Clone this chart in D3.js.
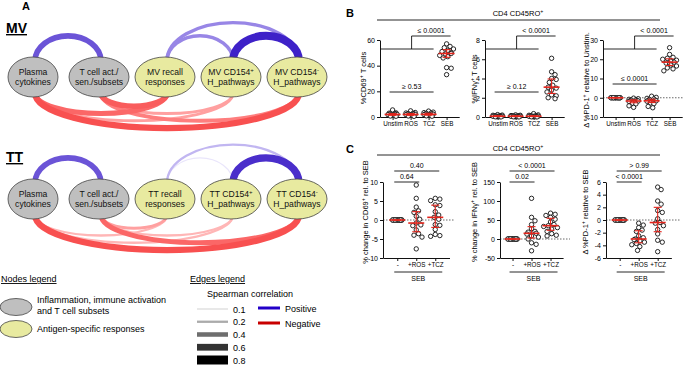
<!DOCTYPE html>
<html>
<head>
<meta charset="utf-8">
<script src="https://cdnjs.cloudflare.com/ajax/libs/d3/7.8.5/d3.min.js"></script>
<style>
body { margin: 0; background: #fff; }
svg { display: block; font-family: "Liberation Sans", Arial, sans-serif; }
</style>
</head>
<body>
<svg id="fig" width="683" height="366"></svg>
<script>
// ---------- Panel A: network ----------
const nodeKeys = ["plasma", "tcell", "recall", "cd154p", "cd154n"];
const nodeKinds = ["inflam", "inflam", "antigen", "antigen", "antigen"];
const mvLabels = [["Plasma", "cytokines"], ["T cell act./", "sen./subsets"], ["MV recall", "responses"], ["MV CD154^+", "H_pathways"], ["MV CD154^-", "H_pathways"]];
const ttLabels = [["Plasma", "cytokines"], ["T cell act./", "sen./subsets"], ["TT recall", "responses"], ["TT CD154^+", "H_pathways"], ["TT CD154^-", "H_pathways"]];
// [source, target, signed spearman r]
const mvEdges = [
	["plasma", "tcell", 0.5], ["recall", "cd154p", 0.3], ["recall", "cd154n", 0.3], ["cd154p", "cd154n", 0.7],
	["plasma", "recall", -0.45], ["plasma", "cd154p", -0.25], ["plasma", "cd154n", -0.55],
	["tcell", "recall", -0.5], ["tcell", "cd154p", -0.25], ["tcell", "cd154n", -0.35],
];
const ttEdges = [
	["plasma", "tcell", 0.5], ["recall", "cd154p", 0.1], ["recall", "cd154n", 0.2], ["cd154p", "cd154n", 0.65],
	["plasma", "recall", -0.2], ["plasma", "cd154p", -0.2], ["plasma", "cd154n", -0.55],
	["tcell", "recall", -0.25], ["tcell", "cd154p", -0.2], ["tcell", "cd154n", -0.45],
];
const legendWeights = [0.1, 0.2, 0.4, 0.6, 0.8];
const legendSigns = ["Positive", "Negative"];
const nodeLegend = [["Inflammation, immune activation", "and T cell subsets"], ["Antigen-specific responses"]];

// ---------- Panel B ----------
const bCats = ["Unstim", "ROS", "TCZ", "SEB"];
const bCd69 = [
	[5.5, 3.2, 3.0, 2.7, 2.5, 2.3, 2.1, 2.0, 1.8, 1.6, 1.4, 1.2, 1.0, 0.8, 0.6],
	[4.8, 3.5, 3.1, 2.8, 2.6, 2.4, 2.2, 2.0, 1.8, 1.6, 1.4, 1.2, 1.0, 0.8, 0.5],
	[4.6, 3.8, 3.4, 3.0, 2.8, 2.5, 2.3, 2.1, 1.9, 1.7, 1.5, 1.3, 1.1, 0.9, 0.6],
	[57, 55, 54, 53, 52, 51, 50, 49.5, 49, 48, 47, 46, 38.5, 38, 33],
];
const bIfng = [
	[0.25, 0.2, 0.18, 0.15, 0.12, 0.1, 0.1, 0.08, 0.07, 0.06, 0.05, 0.04, 0.03, 0.02, 0.01],
	[0.22, 0.18, 0.15, 0.13, 0.12, 0.1, 0.09, 0.08, 0.07, 0.06, 0.05, 0.04, 0.03, 0.02, 0.01],
	[0.35, 0.22, 0.18, 0.15, 0.12, 0.1, 0.09, 0.08, 0.07, 0.06, 0.05, 0.04, 0.03, 0.02, 0.01],
	[6.1, 4.7, 4.4, 4.0, 3.9, 3.6, 3.3, 3.1, 3.0, 2.8, 2.6, 2.3, 2.2, 2.0, 1.9],
];
const bPd1 = [
	[0, 0, 0, 0, 0, 0, 0, 0, 0, 0, 0, 0, 0, 0, 0],
	[-0.2, -0.5, -0.8, -1.0, -1.2, -1.4, -1.5, -1.7, -1.9, -2.1, -2.4, -2.8, -3.2, -4.2, -5.0],
	[0.8, 0.2, -0.3, -0.6, -0.9, -1.2, -1.4, -1.6, -1.8, -2.0, -2.3, -2.7, -3.1, -4.5, -5.2],
	[26, 22.5, 21, 20.5, 20, 19.5, 19, 18.5, 18, 17.5, 17, 16.5, 15.5, 15, 14],
];
const bSigUpper = ["≤ 0.0001", "< 0.0001", "< 0.0001"];
const bSigLower = ["≥ 0.53", "≥ 0.12", "≤ 0.0001"];

// ---------- Panel C ----------
const cCats = ["-", "+ROS", "+TCZ"];
const cCd69 = [
	[0, 0, 0, 0, 0, 0, 0, 0, 0, 0, 0, 0, 0, 0, 0],
	[9.2, 5.7, 3.4, 2.4, 2.0, 1.0, 0.2, -0.8, -1.3, -1.5, -2.6, -3.6, -4.0, -4.5, -7.6],
	[5.7, 5.5, 5.1, 4.0, 3.8, 2.2, 1.3, 0.7, 0.2, -1.2, -1.4, -2.5, -3.8, -4.1, -4.3],
];
const cIfng = [
	[0, 0, 0, 0, 0, 0, 0, 0, 0, 0, 0, 0, 0, 0, 0],
	[107, 57, 48, 38, 27, 20, 18, 15, 13, 8, 5, 0, -10, -14, -31],
	[68, 65, 62, 57, 52, 45, 38, 35, 33, 30, 26, 20, 14, 10, 8],
];
const cPd1 = [
	[0, 0, 0, 0, 0, 0, 0, 0, 0, 0, 0, 0, 0, 0, 0],
	[-0.5, -0.8, -1.2, -1.6, -1.8, -2.5, -2.8, -3.0, -3.1, -3.3, -3.5, -3.7, -3.9, -4.2, -4.8],
	[5.2, 4.8, 3.0, 2.5, 1.5, 1.2, 0.2, -0.4, -0.5, -0.9, -1.5, -2.2, -3.2, -3.5, -5.0],
];
const cSigOuter = ["0.40", "< 0.0001", "> 0.99"];
const cSigInner = ["0.64", "0.02", "< 0.0001"];

const svg = d3.select("#fig");
const RED = "#e3241b";

// text with "^x" superscripts
function richText(sel, str) {
	const parts = str.split(/\^(.)/);
	parts.forEach((p, i) => {
		if (p === "") return;
		const t = sel.append("tspan").text(p);
		if (i % 2 === 1) t.attr("baseline-shift", "super").attr("font-size", "70%");
	});
	return sel;
}

// ---------- draw panel A ----------
const widthScale = d3.scaleLinear().domain([0.1, 0.8]).range([1.2, 9]);
const posColor = d3.scaleLinear().domain([0.1, 0.3, 0.8]).range(["#e9e5fb", "#9886e6", "#2808c0"]);
const negColor = d3.scaleLinear().domain([0.1, 0.3, 0.8]).range(["#ffe2e2", "#ff8a8a", "#f01616"]);
const grayColor = d3.scaleLinear().domain([0.1, 0.2, 0.4, 0.6, 0.8]).range(["#d9d9d9", "#ababab", "#6e6e6e", "#333", "#000"]);
const xNode = d3.scalePoint().domain(nodeKeys).range([33, 297]);
const nodeFill = { inflam: "#bfbfbf", antigen: "#e8eaa0" };

function drawNetwork(labels, edges, cy, title, titleY) {
	const g = svg.append("g");
	const ry = 20;
	const sorted = edges.slice().sort((a, b) => Math.abs(a[2]) - Math.abs(b[2]));
	g.selectAll("path.edge")
		.data(sorted)
		.join("path")
		.attr("class", "edge")
		.attr("fill", "none")
		.attr("d", (e) => {
			const x1 = xNode(e[0]) + 2, x2 = xNode(e[1]) + 2, span = x2 - x1;
			if (e[2] > 0) {
				const y0 = cy - ry + 4, d = 12 + 0.2 * span;
				return `M${x1},${y0} A${span / 2},${d} 0 0 1 ${x2},${y0}`;
			}
			const y0 = cy + ry - 4, d = 6 + 0.11 * span;
			return `M${x1},${y0} A${span / 2},${d} 0 0 0 ${x2},${y0}`;
		})
		.attr("stroke", (e) => (e[2] > 0 ? posColor(e[2]) : negColor(-e[2])))
		.attr("stroke-width", (e) => widthScale(Math.abs(e[2])));

	const nodes = g.selectAll("g.node")
		.data(nodeKeys)
		.join("g")
		.attr("class", "node")
		.attr("transform", (d) => `translate(${xNode(d)},${cy})`);
	nodes.append("ellipse")
		.attr("rx", (d, i) => (i === 0 ? 25 : 30))
		.attr("ry", ry)
		.attr("fill", (d, i) => nodeFill[nodeKinds[i]])
		.attr("stroke", "#444")
		.attr("stroke-width", 0.8);
	nodes.each(function (d, i) {
		labels[i].forEach((line, j) => {
			const t = d3.select(this).append("text")
				.attr("text-anchor", "middle")
				.attr("y", j === 0 ? -2 : 8)
				.attr("font-size", 8.6)
				.attr("fill", "#111");
			richText(t, line);
		});
	});

	g.append("text")
		.attr("x", 6).attr("y", titleY)
		.attr("font-size", 14).attr("font-weight", "bold")
		.attr("text-decoration", "underline")
		.text(title);
}

svg.append("text").attr("x", 22).attr("y", 10).attr("font-size", 11).attr("font-weight", "bold").text("A");
drawNetwork(mvLabels, mvEdges, 77, "MV", 33);
drawNetwork(ttLabels, ttEdges, 199, "TT", 162);

// legends
svg.append("text").attr("x", 1).attr("y", 282).attr("font-size", 9).attr("text-decoration", "underline").text("Nodes legend");
const nl = svg.selectAll("g.nleg").data(nodeLegend).join("g").attr("class", "nleg")
	.attr("transform", (d, i) => `translate(0,${i === 0 ? 307 : 329})`);
nl.append("ellipse").attr("cx", 16).attr("rx", 16).attr("ry", 8.5)
	.attr("fill", (d, i) => (i === 0 ? nodeFill.inflam : nodeFill.antigen))
	.attr("stroke", "#444").attr("stroke-width", 0.8);
nl.each(function (d) {
	d.forEach((line, j) => {
		d3.select(this).append("text").attr("x", 37).attr("y", d.length > 1 ? -4 + j * 11 : 3)
			.attr("font-size", 9).text(line);
	});
});

svg.append("text").attr("x", 190).attr("y", 282).attr("font-size", 9).attr("text-decoration", "underline").text("Edges legend");
svg.append("text").attr("x", 207).attr("y", 297).attr("font-size", 9).text("Spearman correlation");
const legY = d3.scalePoint().domain(legendWeights).range([309, 360]);
const el = svg.selectAll("g.eleg").data(legendWeights).join("g").attr("class", "eleg")
	.attr("transform", (d) => `translate(0,${legY(d)})`);
el.append("line").attr("x1", 197).attr("x2", 228)
	.attr("stroke", (d) => grayColor(d)).attr("stroke-width", (d) => widthScale(d));
el.append("text").attr("x", 233).attr("y", 3.5).attr("font-size", 9).text((d) => d.toFixed(1));
const sl = svg.selectAll("g.sleg").data(legendSigns).join("g").attr("class", "sleg")
	.attr("transform", (d, i) => `translate(0,${308 + i * 15})`);
sl.append("line").attr("x1", 258).attr("x2", 280).attr("stroke-width", 3)
	.attr("stroke", (d, i) => (i === 0 ? "#2200c8" : "#c80000"));
sl.append("text").attr("x", 285).attr("y", 3.5).attr("font-size", 9).text((d) => d);

// ---------- dot plots ----------
function swarm(vals, y, r, maxOff) {
	const step = r / 2;
	const offs = [0];
	for (let k = 1; k * step <= maxOff; k++) offs.push(k * step, -k * step);
	// tied points that find no free slot pile up near the centre
	const pile = offs.filter((o) => Math.abs(o) <= 4.6);
	const placed = [];
	vals.slice().sort(d3.descending).forEach((v, i) => {
		const py = y(v);
		let dx = offs.find((o) => placed.every((p) => Math.hypot(p.dx - o, p.y - py) >= 1.8 * r));
		if (dx === undefined) dx = pile[i % pile.length];
		placed.push({ v, y: py, dx });
	});
	return placed;
}

function dotPlot(cfg) {
	const g = svg.append("g");
	const n = cfg.cats.length;
	const x = d3.scalePoint().domain(cfg.cats)
		.range([cfg.x0, cfg.x0 + cfg.step * (n - 1 + 2 * cfg.pad)]).padding(cfg.pad);
	const y = d3.scaleLinear().domain(cfg.yDomain).range(cfg.yRange);

	if (cfg.zeroEnd) {
		g.append("line").attr("x1", cfg.x0).attr("x2", cfg.zeroEnd)
			.attr("y1", y(0)).attr("y2", y(0))
			.attr("stroke", "#444").attr("stroke-width", 0.8).attr("stroke-dasharray", "1.5,1.5");
	}

	const ya = g.append("g").attr("transform", `translate(${cfg.x0},0)`)
		.call(d3.axisLeft(y).tickValues(cfg.yTicks).tickSize(3).tickSizeOuter(0).tickPadding(2).tickFormat((d) => String(d)));
	const xa = g.append("g").attr("transform", `translate(0,${cfg.yRange[0]})`)
		.call(d3.axisBottom(x).tickSize(3).tickSizeOuter(0).tickPadding(2));
	ya.attr("font-family", null).attr("font-size", 7);
	xa.attr("font-family", null).attr("font-size", 6.3);
	[ya, xa].forEach((a) => a.selectAll("path,line").attr("stroke", "#111").attr("stroke-width", 1));

	const lab = g.append("text")
		.attr("transform", `translate(${cfg.labX},${cfg.labY}) rotate(-90)`)
		.attr("text-anchor", "middle").attr("font-size", 7.5);
	richText(lab, cfg.label);

	cfg.data.forEach((vals, i) => {
		const cx = x(cfg.cats[i]);
		const pts = swarm(vals, y, 2.3, 7);
		g.append("g").selectAll("circle").data(pts).join("circle")
			.attr("cx", (p) => cx + p.dx).attr("cy", (p) => p.y).attr("r", 2.2)
			.attr("fill", "#fff").attr("stroke", "#111").attr("stroke-width", 0.9);
		const s = vals.slice().sort(d3.ascending);
		const q1 = d3.quantile(s, 0.25), med = d3.quantile(s, 0.5), q3 = d3.quantile(s, 0.75);
		const eb = g.append("g").attr("stroke", RED).attr("fill", "none");
		eb.append("line").attr("x1", cx).attr("x2", cx).attr("y1", y(q1)).attr("y2", y(q3)).attr("stroke-width", 1.1);
		[q1, q3].forEach((q) => eb.append("line").attr("x1", cx - 4).attr("x2", cx + 4).attr("y1", y(q)).attr("y2", y(q)).attr("stroke-width", 1.1));
		eb.append("line").attr("x1", cx - 8).attr("x2", cx + 8).attr("y1", y(med)).attr("y2", y(med)).attr("stroke-width", 1.6);
	});

	const bracket = g.append("g").attr("stroke", "#111").attr("stroke-width", 0.9).attr("fill", "none");
	const txt = (tx, ty, s) => g.append("text").attr("x", tx).attr("y", ty).attr("text-anchor", "middle").attr("font-size", 7).text(s);
	if (cfg.kind === "B") {
		const xb = x(cfg.cats[2]) + 5, xm = x(cfg.cats[1]) + 1, xs = x(cfg.cats[3]) + 4;
		bracket.append("path").attr("d", `M${cfg.x0},49 H${xb} M${xm},49 V36 H${xs}`);
		txt((xm + xs) / 2, 33, cfg.sigUpper);
		const xl = x(cfg.cats[0]) - 3;
		bracket.append("path").attr("d", `M${xl},${cfg.lowY} H${xb}`);
		txt((xl + xb) / 2, cfg.lowY - 3, cfg.sigLower);
	} else {
		const xl = x(cfg.cats[0]) - 3;
		const xo = x(cfg.cats[2]) + 4, xi = x(cfg.cats[1]) + 3;
		bracket.append("path").attr("d", `M${xl},171 H${xo} M${xl},182 H${xi}`);
		txt((xl + xo) / 2, 168, cfg.sigUpper);
		txt((xl + xi) / 2, 179, cfg.sigLower);
		bracket.append("path").attr("d", `M${x(cfg.cats[0]) - 3},272 H${x(cfg.cats[2]) + 7}`);
		txt((x(cfg.cats[0]) + x(cfg.cats[2])) / 2 + 2, 281, "SEB");
	}
}

// panel B
svg.append("text").attr("x", 346).attr("y", 17).attr("font-size", 11).attr("font-weight", "bold").text("B");
richText(svg.append("text").attr("x", 518).attr("y", 16).attr("text-anchor", "middle").attr("font-size", 7.5), "CD4 CD45RO^+");
svg.append("line").attr("x1", 377).attr("x2", 660).attr("y1", 20).attr("y2", 20).attr("stroke", "#111").attr("stroke-width", 0.9);

dotPlot({ kind: "B", cats: bCats, data: bCd69, x0: 380, step: 18, pad: 0.7, yDomain: [0, 60], yTicks: [0, 20, 40, 60], yRange: [117, 40],
	label: "%CD69^+ T cells", labX: 366, labY: 78, lowY: 92, sigUpper: bSigUpper[0], sigLower: bSigLower[0] });
dotPlot({ kind: "B", cats: bCats, data: bIfng, x0: 485, step: 18, pad: 0.7, yDomain: [0, 8], yTicks: [0, 2, 4, 6, 8], yRange: [117, 40],
	label: "%IFNγ^+ T cells", labX: 477, labY: 79, lowY: 92, sigUpper: bSigUpper[1], sigLower: bSigLower[1] });
dotPlot({ kind: "B", cats: bCats, data: bPd1, x0: 603, step: 18, pad: 0.7, yDomain: [-10, 30], yTicks: [-10, 0, 10, 20, 30], yRange: [117, 40],
	label: "Δ %PD-1^+ relative to Unstim.", labX: 589, labY: 80, lowY: 84, zeroEnd: 683, sigUpper: bSigUpper[2], sigLower: bSigLower[2] });

// panel C
svg.append("text").attr("x", 346).attr("y", 153).attr("font-size", 11).attr("font-weight", "bold").text("C");
richText(svg.append("text").attr("x", 518).attr("y", 151).attr("text-anchor", "middle").attr("font-size", 7.5), "CD4 CD45RO^+");
svg.append("line").attr("x1", 377).attr("x2", 660).attr("y1", 155).attr("y2", 155).attr("stroke", "#111").attr("stroke-width", 0.9);

dotPlot({ kind: "C", cats: cCats, data: cCd69, x0: 383, step: 19, pad: 0.75, yDomain: [-10, 10], yTicks: [-10, -5, 0, 5, 10], yRange: [258, 182],
	label: "% change in CD69^+ rel. to SEB", labX: 368, labY: 212, zeroEnd: 455, sigUpper: cSigOuter[0], sigLower: cSigInner[0] });
dotPlot({ kind: "C", cats: cCats, data: cIfng, x0: 500, step: 19, pad: 0.66, yDomain: [-50, 150], yTicks: [-50, 0, 50, 100, 150], yRange: [258, 182],
	label: "% change in IFNγ^+ rel. to SEB", labX: 477, labY: 212, zeroEnd: 570, sigUpper: cSigOuter[1], sigLower: cSigInner[1] });
dotPlot({ kind: "C", cats: cCats, data: cPd1, x0: 606, step: 19, pad: 0.72, yDomain: [-6, 6], yTicks: [-6, -4, -2, 0, 2, 4, 6], yRange: [258, 182],
	label: "Δ %PD-1^+ relative to SEB", labX: 588, labY: 212, zeroEnd: 680, sigUpper: cSigOuter[2], sigLower: cSigInner[2] });
</script>
</body>
</html>
